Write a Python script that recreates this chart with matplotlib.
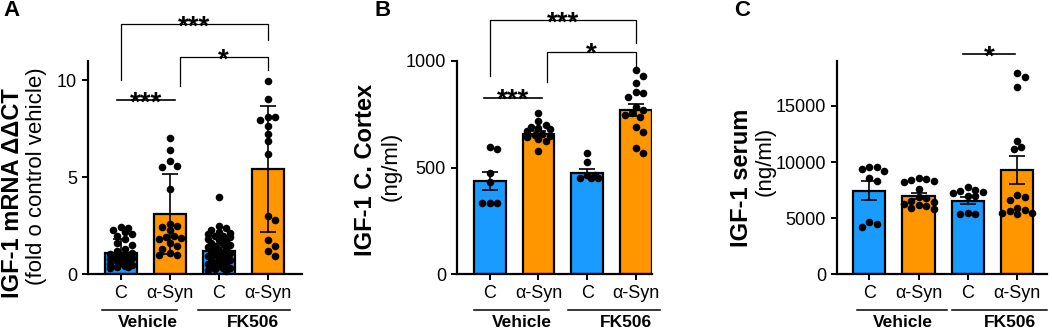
#!/usr/bin/env python3

import matplotlib.pyplot as plt
import numpy as np

plt.rcParams['font.family'] = ['Liberation Sans', 'DejaVu Sans']

#################################################
### Data
#################################################

conditions = ['C', 'α-Syn', 'C', 'α-Syn']
treatments = ['Vehicle', 'FK506']
bar_colors = ['#1A9BFF', '#FF9600', '#1A9BFF', '#FF9600']

# A - IGF-1 mRNA (mean +/- SD)
mrna_mean = [1.12, 3.10, 1.22, 5.44]
mrna_err = [0.68, 2.07, 0.76, 3.24]
mrna_c_veh = [2.45, 2.4, 2.3, 2.2, 2.1, 2.0, 1.8, 1.6, 1.5, 1.3, 1.2, 1.1, 1.05, 1.0, 1.0,
              0.95, 0.9, 0.9, 0.85, 0.8, 0.75, 0.7, 0.65, 0.6, 0.55, 0.5, 0.45, 0.4, 0.4, 0.35]
mrna_syn_veh = [7.05, 6.4, 5.85, 5.6, 5.55, 4.4, 2.6, 2.5, 2.45, 2.3, 1.95, 1.9, 1.85, 1.8,
                1.6, 1.45, 1.3, 1.1, 1.0, 1.0]
mrna_c_fk = [4.0, 2.5, 2.4, 2.3, 2.2, 2.15, 2.1, 2.0, 1.95, 1.9, 1.8, 1.75, 1.7, 1.6, 1.55,
             1.5, 1.45, 1.4, 1.3, 1.25, 1.2, 1.1, 1.05, 1.0, 0.95, 0.9, 0.85, 0.8, 0.75, 0.7,
             0.6, 0.55, 0.5, 0.45, 0.4, 0.35, 0.3, 0.25, 0.2, 0.15]
mrna_syn_fk = [9.95, 9.05, 8.1, 8.1, 7.95, 7.65, 7.25, 6.85, 6.2, 3.0, 2.8, 1.75, 1.45, 1.2, 0.95]

# B - IGF-1 cortex (mean +/- SEM)
cortex_mean = [437, 660, 476, 770]
cortex_err = [43, 12, 18, 30]
cortex_c_veh = [598, 586, 473, 431, 333, 335, 333]
cortex_syn_veh = [755, 718, 700, 690, 685, 680, 670, 660, 655, 650, 645, 635, 625, 578]
cortex_c_fk = [570, 528, 465, 450, 450, 465, 450]
cortex_syn_fk = [958, 928, 895, 856, 849, 830, 786, 770, 755, 745, 738, 692, 668, 591, 567]

# C - IGF-1 serum (mean +/- SEM)
serum_mean = [7450, 6980, 6560, 9300]
serum_err = [820, 300, 340, 1250]
serum_c_veh = [9590, 9536, 9358, 9207, 8556, 8342, 4635, 4483, 4189]
serum_syn_veh = [8600, 8500, 8400, 8300, 8200, 7600, 6900, 6800, 6500, 6400, 6300, 6200,
                 6100, 5900, 5800]
serum_c_fk = [7800, 7550, 7450, 7300, 7250, 7000, 6950, 5450, 5400, 5400]
serum_syn_fk = [17950, 17600, 16700, 11900, 11300, 11150, 7050, 6900, 6600, 5900, 5750,
                5600, 5500, 5450, 5400]

#################################################
### Layout
#################################################

W, H = 1052, 331

panels = [
    dict(letter='A', letter_x=3, left=88, right=302, ylim=(0, 11.0), yticks=[0, 5, 10],
         xlim=(-0.67, 3.7), mean=mrna_mean, err=mrna_err,
         points=[mrna_c_veh, mrna_syn_veh, mrna_c_fk, mrna_syn_fk],
         bold_label='IGF-1 mRNA ΔΔCT', bold_xy=(13, 193),
         reg_label='(fold o control vehicle)', reg_xy=(37, 176),
         brackets=[(0, 3, 12.92, 10.0, 12.1, '***'), (1.2, 3, 11.22, 9.72, 10.55, '*')],
         lines=[(-0.08, 1.1, 9.0, '***')],
         underlines=[(-0.39, 1.14), (1.57, 3.45)], group_x=[0.55, 2.7]),
    dict(letter='B', letter_x=374, left=457, right=652, ylim=(0, 1000), yticks=[0, 500, 1000],
         xlim=(-0.67, 3.33), mean=cortex_mean, err=cortex_err,
         points=[cortex_c_veh, cortex_syn_veh, cortex_c_fk, cortex_syn_fk],
         bold_label='IGF-1 C. Cortex', bold_xy=(366, 170),
         reg_label='(ng/ml)', reg_xy=(391, 166),
         brackets=[(0, 3, 1192, 930, 1084, '***'), (1.18, 3, 1044, 903, 958, '*')],
         lines=[(-0.12, 1.08, 828, '***')],
         underlines=[(-0.33, 1.22), (1.6, 3.5)], group_x=[0.66, 2.8]),
    dict(letter='C', letter_x=734, left=837, right=1047, ylim=(0, 19000),
         yticks=[0, 5000, 10000, 15000],
         xlim=(-0.65, 3.6), mean=serum_mean, err=serum_err,
         points=[serum_c_veh, serum_syn_veh, serum_c_fk, serum_syn_fk],
         bold_label='IGF-1 serum', bold_xy=(741, 178),
         reg_label='(ng/ml)', reg_xy=(765, 161),
         brackets=[],
         lines=[(1.9, 2.96, 19630, '*')],
         underlines=[(-0.24, 1.58), (1.68, 3.6)], group_x=[0.69, 2.84]),
]

AX_TOP, AX_BOTTOM = 61, 274.3
BAR_WIDTH = 0.65
DOT_PX = 7.5

#################################################
### Functions Definitions
#################################################

def swarm_offsets(ax, x0, values, half_width):
    """Greedy beeswarm in pixel space, returns x offsets in data units."""
    values = np.asarray(values, dtype=float)
    px = ax.transData.transform(np.column_stack([np.full(len(values), x0), values]))
    ys = px[:, 1]
    unit_px = ax.transData.transform((x0 + 1, 0))[0] - ax.transData.transform((x0, 0))[0]
    max_px = half_width * unit_px
    step = DOT_PX * 0.5
    cands = [0.0]
    k = 1
    while k * step <= max_px:
        cands += [k * step, -k * step]
        k += 1
    placed = []
    offsets = np.zeros(len(values))
    for i in np.argsort(-ys):
        best, best_d = 0.0, -1
        for c in cands:
            d = min([np.hypot(c - px_, ys[i] - py_) for px_, py_ in placed], default=1e9)
            if d >= DOT_PX:
                best = c
                break
            if d > best_d:
                best, best_d = c, d
        placed.append((best, ys[i]))
        offsets[i] = best / unit_px
    return offsets


def draw_panel(fig, p):
    rect = [p['left'] / W, (H - AX_BOTTOM) / H, (p['right'] - p['left']) / W,
            (AX_BOTTOM - AX_TOP) / H]
    ax = fig.add_axes(rect)
    ax.set_xlim(*p['xlim'])
    ax.set_ylim(*p['ylim'])

    x = np.arange(len(conditions))
    ax.bar(x, p['mean'], width=BAR_WIDTH, color=bar_colors, edgecolor='black',
           linewidth=1.6, zorder=2)
    for i, vals in enumerate(p['points']):
        offs = swarm_offsets(ax, x[i], vals, BAR_WIDTH / 2 - 0.02)
        ax.scatter(x[i] + offs, vals, s=30, color='black', linewidths=0, zorder=3,
                   clip_on=False)
    ax.errorbar(x, p['mean'], yerr=p['err'], fmt='none', ecolor='black', elinewidth=1.2,
                capsize=6, capthick=1.2, zorder=4)

    for side in ['top', 'right']:
        ax.spines[side].set_visible(False)
    for side in ['left', 'bottom']:
        ax.spines[side].set_linewidth(1.6)
    ax.set_yticks(p['yticks'])
    ax.set_xticks(x)
    ax.set_xticklabels(conditions)
    ax.tick_params(axis='both', labelsize=13, width=1.4, length=4, direction='out')
    ax.tick_params(axis='x', pad=4)
    ax.tick_params(axis='y', pad=4)

    # significance
    for x1, x2, y, l1, l2, label in p['brackets']:
        ax.plot([x1, x1, x2, x2], [l1, y, y, l2], color='black', lw=0.9, clip_on=False)
        ax.annotate(label, ((x1 + x2) / 2, y), xytext=(0, -7.5), textcoords='offset points',
                    ha='center', va='baseline', fontsize=20, fontweight='bold',
                    annotation_clip=False)
    for x1, x2, y, label in p['lines']:
        ax.plot([x1, x2], [y, y], color='black', lw=1.2, clip_on=False)
        ax.annotate(label, ((x1 + x2) / 2, y), xytext=(0, -7.5), textcoords='offset points',
                    ha='center', va='baseline', fontsize=20, fontweight='bold',
                    annotation_clip=False)

    # treatment groups under the axis
    trans = ax.get_xaxis_transform()
    for (u1, u2), gx, name in zip(p['underlines'], p['group_x'], treatments):
        ax.plot([u1, u2], [-0.167, -0.167], color='black', lw=1.1, transform=trans,
                clip_on=False)
        ax.text(gx, -0.228, name, transform=trans, ha='center', va='center',
                fontsize=12.5, fontweight='bold')

    fig.text(p['bold_xy'][0] / W, 1 - p['bold_xy'][1] / H, p['bold_label'], rotation=90,
             ha='center', va='center', fontsize=17, fontweight='bold')
    fig.text(p['reg_xy'][0] / W, 1 - p['reg_xy'][1] / H, p['reg_label'], rotation=90,
             ha='center', va='center', fontsize=16)
    fig.text(p['letter_x'] / W, 1 - 0 / H, p['letter'], ha='left', va='top',
             fontsize=16, fontweight='bold')
    return ax


fig = plt.figure(figsize=(W / 100, H / 100), dpi=100)
for p in panels:
    draw_panel(fig, p)

fig.savefig('out.png', dpi=100)
